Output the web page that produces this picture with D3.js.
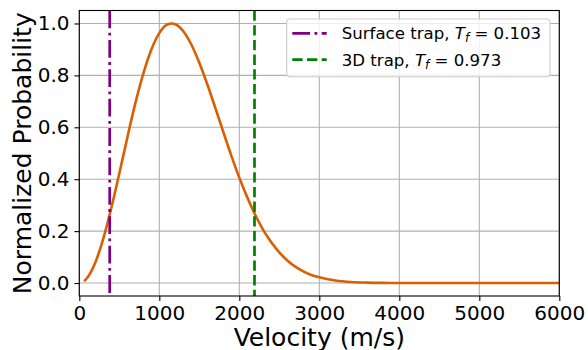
<!DOCTYPE html>
<html>
<head>
<meta charset="utf-8">
<title>Velocity distribution</title>
<script src="https://d3js.org/d3.v7.min.js"></script>
<style>
	body { margin: 0; background: white; }
	text { font-family: "DejaVu Sans", sans-serif; fill: black; }
</style>
</head>
<body>
<script>
	// velocity (m/s) and normalized probability
	var velocity = [60, 100, 200, 300, 400, 500, 600, 700, 800, 900, 1000, 1100, 1155, 1200, 1300, 1400, 1500,
		1600, 1700, 1800, 1900, 2000, 2100, 2200, 2300, 2400, 2500, 2600, 2700, 2800, 2900, 3000,
		3200, 3400, 3600, 3800, 4000, 5000, 6000];
	var probability = [0.007, 0.020, 0.079, 0.171, 0.289, 0.422, 0.560, 0.692, 0.807, 0.899, 0.963, 0.996, 1.0, 0.997, 0.970, 0.919, 0.849,
		0.766, 0.675, 0.582, 0.491, 0.406, 0.330, 0.262, 0.204, 0.157, 0.118, 0.087, 0.063, 0.045, 0.031, 0.022,
		0.010, 0.004, 0.0016, 0.0006, 0.0002, 0, 0];

	var trapNames = ["Surface trap", "3D trap"];
	var trapVelocity = [380, 2190];
	var trapFraction = ["0.103", "0.973"];
	var trapColors = ["purple", "green"];
	var trapDashes = ["17.8,4.4,2.8,4.4", "10.3,4.4"];

	var xTicks = [0, 1000, 2000, 3000, 4000, 5000, 6000];
	var yTicks = [0.0, 0.2, 0.4, 0.6, 0.8, 1.0];

	var width = 588, height = 350;
	var mLeft = 79.3, mRight = 559.3, mTop = 10.5, mBottom = 296;

	var svg = d3.select("body").append("svg").attr("width", width).attr("height", height);

	var x = d3.scaleLinear().domain([0, 6000]).range([mLeft, mRight]);
	var y = d3.scaleLinear().domain([-0.05, 1.05]).range([mBottom, mTop]);

	// grid
	var grid = svg.append("g").attr("stroke", "#b0b0b0").attr("stroke-width", 1.1);
	grid.selectAll(".gx").data(xTicks).enter().append("line")
		.attr("x1", d => x(d)).attr("x2", d => x(d)).attr("y1", mTop).attr("y2", mBottom);
	grid.selectAll(".gy").data(yTicks).enter().append("line")
		.attr("x1", mLeft).attr("x2", mRight).attr("y1", d => y(d)).attr("y2", d => y(d));

	// axes
	var xAxis = d3.axisBottom(x).tickValues(xTicks).tickSize(4.9).tickPadding(4.9).tickFormat(d3.format("d"));
	var yAxis = d3.axisLeft(y).tickValues(yTicks).tickSize(4.9).tickPadding(4.9).tickFormat(d3.format(".1f"));

	var xg = svg.append("g").attr("transform", "translate(0," + mBottom + ")").call(xAxis);
	var yg = svg.append("g").attr("transform", "translate(" + mLeft + ",0)").call(yAxis);
	[xg, yg].forEach(function(g) {
		g.select(".domain").remove();
		g.selectAll(".tick line").attr("stroke", "black").attr("stroke-width", 1.1);
		g.selectAll(".tick text").attr("font-size", 20).attr("font-family", "DejaVu Sans").attr("fill", "black");
	});

	// data line
	var line = d3.line().x(d => x(d[0])).y(d => y(d[1])).curve(d3.curveMonotoneX);
	svg.append("path").datum(d3.zip(velocity, probability))
		.attr("d", line).attr("fill", "none").attr("stroke", "#d95f02").attr("stroke-width", 2.6);

	// trap lines
	svg.selectAll(".trap").data(trapVelocity).enter().append("line")
		.attr("x1", d => x(d)).attr("x2", d => x(d)).attr("y1", mTop).attr("y2", mBottom)
		.attr("stroke", (d, i) => trapColors[i]).attr("stroke-width", 2.7)
		.attr("stroke-dasharray", (d, i) => trapDashes[i]);

	// frame
	svg.append("rect").attr("x", mLeft).attr("y", mTop).attr("width", mRight - mLeft).attr("height", mBottom - mTop)
		.attr("fill", "none").attr("stroke", "black").attr("stroke-width", 1.1);

	// axis labels
	svg.append("text").attr("x", (mLeft + mRight) / 2).attr("y", 346).attr("text-anchor", "middle")
		.attr("font-size", 25).text("Velocity (m/s)");
	svg.append("text").attr("transform", "translate(31," + ((mTop + mBottom) / 2) + ") rotate(-90)")
		.attr("text-anchor", "middle").attr("font-size", 25).text("Normalized Probability");

	// legend
	var lg = svg.append("g");
	lg.append("rect").attr("x", 286.7).attr("y", 19).attr("width", 263.3).attr("height", 57.7)
		.attr("rx", 3).attr("fill", "white").attr("fill-opacity", 0.8).attr("stroke", "#cccccc").attr("stroke-width", 1.1);
	var rows = lg.selectAll(".row").data(trapNames).enter().append("g")
		.attr("transform", (d, i) => "translate(0," + (33.3 + i * 26.3) + ")");
	rows.append("line").attr("x1", 292.3).attr("x2", 326.7)
		.attr("stroke", (d, i) => trapColors[i]).attr("stroke-width", 2.7)
		.attr("stroke-dasharray", (d, i) => trapDashes[i]);
	var txt = rows.append("text").attr("x", 341.7).attr("y", 6).attr("font-size", 16.6);
	txt.append("tspan").text(d => d + ", ");
	txt.append("tspan").attr("font-style", "italic").text("T");
	txt.append("tspan").attr("font-style", "italic").attr("font-size", 12).attr("dy", 3).text("f");
	txt.append("tspan").attr("dy", -3).text(" = ");
	txt.append("tspan").text((d, i) => trapFraction[i]);
</script>
</body>
</html>
